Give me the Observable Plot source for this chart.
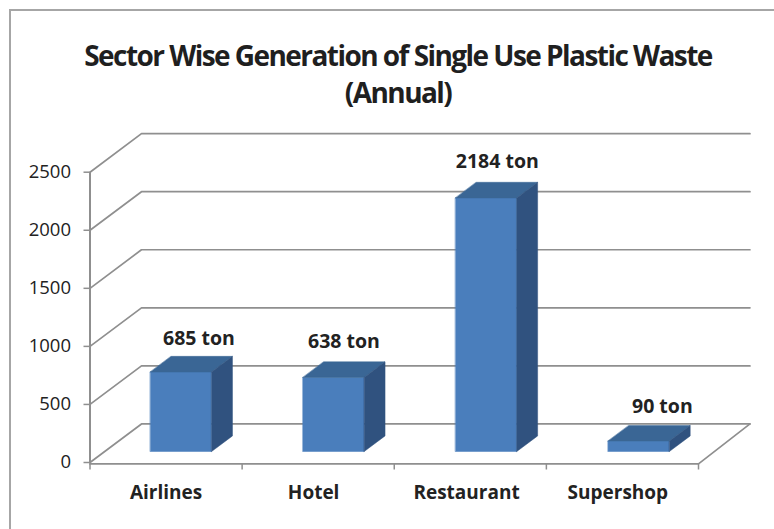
<!DOCTYPE html>
<html>
<head>
<meta charset="utf-8">
<script src="https://cdn.jsdelivr.net/npm/d3@7"></script>
<script src="https://cdn.jsdelivr.net/npm/@observablehq/plot@0.6"></script>
<style>
html,body{margin:0;padding:0;background:#fff;}
#page{position:relative;width:774px;height:529px;overflow:hidden;}
#frame{position:absolute;left:9px;top:9px;width:780px;height:540px;border-left:2px solid #a6a6a6;border-top:2px solid #a6a6a6;box-sizing:border-box;}
#title{position:absolute;left:0;top:0;width:796px;height:120px;padding-top:37px;box-sizing:border-box;text-align:center;
 font:700 28px/37px "Open Sans",sans-serif;letter-spacing:-1.55px;color:#1f1f1f;}
#chart{position:absolute;left:0;top:120px;}
svg{display:block;}
</style>
</head>
<body>
<div id="page">
<div id="frame"></div>
<div id="title">Sector Wise Generation of Single Use Plastic Waste<br>(Annual)</div>
<div id="chart"></div>
</div>
<script>
const categories = ["Airlines", "Hotel", "Restaurant", "Supershop"];
const values = [685, 638, 2184, 90];
const valueLabels = ["685 ton", "638 ton", "2184 ton", "90 ton"];
const yTicks = [0, 500, 1000, 1500, 2000, 2500];
const labelShift = [0.32, 0.27, 0.275, 0.357];
const labelLift = [-33, -36, -36, -34.5];
const categoryTicks = [0.5, 1.47, 2.475, 3.47];

// oblique projection: depth 1 moves a point along both scales
const DX = 0.3384, DY = 332;
const px = (x, d) => x + d * DX;
const py = (v, d) => v + d * DY;
const N = categories.length;
const barStep = 1.003, barStart = 0.30, barWidth = 0.403, d0 = 0.285, d1 = 0.69;

const wall = yTicks.flatMap(v => [
  {k: v, x: px(0, 0), y: py(v, 0)},
  {k: v, x: px(0, 1), y: py(v, 1)},
  {k: v, x: px(N, 1), y: py(v, 1)}
]);
const floorEdge = [
  {x: px(0, 0), y: -12},
  {x: px(N, 0), y: -12},
  {x: px(N, 1), y: py(0, 1)}
];
const face = (fn) => categories.flatMap((c, i) => {
  const a = i * barStep + barStart, b = a + barWidth, v = values[i];
  return fn(a, b, v).map(([x, d, h]) => ({k: c, x: px(x, d), y: py(h, d)}));
});
const fronts = face((a, b, v) => [[a,d0,0],[b,d0,0],[b,d0,v],[a,d0,v]]);
const sides  = face((a, b, v) => [[b,d0,0],[b,d1,0],[b,d1,v],[b,d0,v]]);
const tops   = face((a, b, v) => [[a,d0,v],[b,d0,v],[b,d1,v],[a,d1,v]]);
const labels = categories.map((c, i) => ({
  x: px(i * barStep + barStart + labelShift[i], d0),
  y: py(values[i], d0),
  t: valueLabels[i],
  lift: labelLift[i]
}));

const lineColor = "#8f8f8f";
const closed = (data, fill) => Plot.line(data, {x: "x", y: "y", z: "k", fill, stroke: fill, strokeWidth: 0.5, curve: "linear-closed"});

const plot = Plot.plot({
  width: 774, height: 409,
  marginLeft: 89.5, marginRight: 76, marginTop: 51.7, marginBottom: 67,
  style: {background: "transparent", overflow: "visible"},
  x: {domain: [0, N], axis: null},
  y: {domain: [0, 2500], axis: null},
  marks: [
    Plot.line(wall, {x: "x", y: "y", z: "k", stroke: lineColor, strokeWidth: 1.7}),
    Plot.line(floorEdge, {x: "x", y: "y", stroke: lineColor, strokeWidth: 1.7}),
    Plot.ruleX([0], {y1: -12, y2: 2500, stroke: lineColor, strokeWidth: 2}),
    Plot.axisY({
      ticks: yTicks, tickSize: 6, tickPadding: 13, label: null, stroke: lineColor, tickFormat: "d",
      fontSize: 18.5, fontFamily: "Open Sans", fill: "#222", strokeWidth: 1.5
    }),
    Plot.axisX({
      ticks: d3.range(N + 1), tickSize: 6, tickFormat: () => "", label: null, stroke: lineColor,
      strokeWidth: 1.5, anchor: "bottom", dy: 1.5
    }),
    Plot.axisX({
      ticks: categoryTicks, tickSize: 0, tickPadding: 23,
      tickFormat: (d) => categories[Math.floor(d)], label: null,
      fontSize: 19, fontWeight: 700, fontFamily: "Open Sans", fill: "#222", anchor: "bottom"
    }),
    closed(fronts, "#4a7ebc"),
    closed(tops, "#3a6695"),
    closed(sides, "#30527f"),
    ...d3.group(labels, d => d.lift).entries().map(([lift, rows]) => Plot.text(rows, {
      x: "x", y: "y", text: "t", dy: lift,
      fontSize: 19.5, fontWeight: 700, fontFamily: "Open Sans", fill: "#222", lineAnchor: "middle"
    }))
  ]
});
document.getElementById("chart").append(plot);
</script>
</body>
</html>
